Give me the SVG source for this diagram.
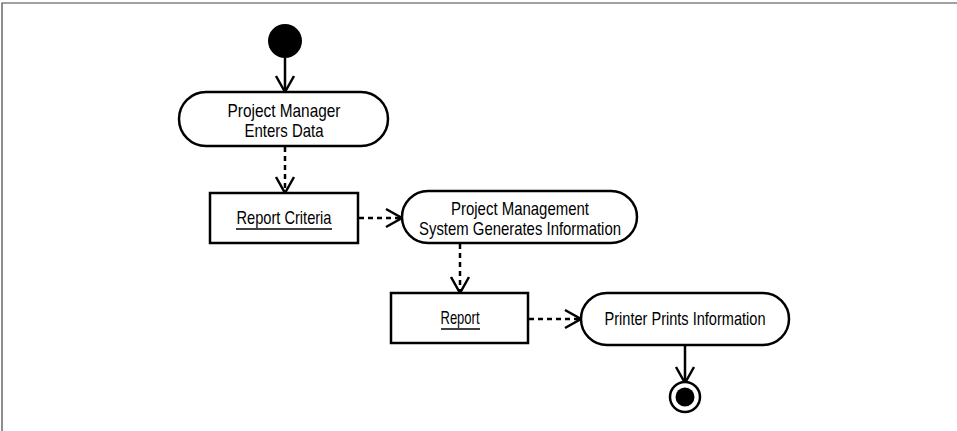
<svg xmlns="http://www.w3.org/2000/svg" width="957" height="431" viewBox="0 0 957 431">
  <defs>
    <marker id="open" markerUnits="userSpaceOnUse" markerWidth="26" markerHeight="26" viewBox="-20 -13 26 26" refX="0" refY="0" orient="auto">
      <path d="M-16,-9 L0,0 L-16,9" fill="none" stroke="#000" stroke-width="2.5"/>
    </marker>
  </defs>
  <style>
    .shape { fill: #fff; stroke: #000; stroke-width: 2.5; }
    .lbl { font-family: "Liberation Sans", Arial, sans-serif; font-size: 18.5px; fill: #000; text-anchor: middle; }
    .solid { fill: none; stroke: #000; stroke-width: 2.5; marker-end: url(#open); }
    .dash { fill: none; stroke: #000; stroke-width: 2.5; stroke-dasharray: 5 4; marker-end: url(#open); }
    .ul { stroke: #000; stroke-width: 1.6; }
  </style>
  <rect width="957" height="431" fill="#fff"/>
  <path d="M2,431 V3 H957" fill="none" stroke="#444" stroke-width="1.2"/>

  <g id="connectors">
    <line class="solid" x1="285" y1="58" x2="285" y2="92"/>
    <line class="dash" x1="285" y1="147" x2="285" y2="193"/>
    <line class="dash" x1="359" y1="218" x2="402" y2="218"/>
    <line class="dash" x1="460" y1="244" x2="460" y2="293"/>
    <line class="dash" x1="529" y1="319" x2="581" y2="319"/>
    <line class="solid" x1="685" y1="346" x2="685" y2="383"/>
  </g>

  <g id="start">
    <circle cx="285" cy="41" r="17" fill="#000"/>
  </g>

  <g id="enters-data">
    <rect class="shape" x="179" y="92" width="209" height="54" rx="27" ry="27"/>
    <text class="lbl" x="284" y="117" textLength="113" lengthAdjust="spacingAndGlyphs">Project Manager</text>
    <text class="lbl" x="284" y="137" textLength="79" lengthAdjust="spacingAndGlyphs">Enters Data</text>
  </g>

  <g id="report-criteria">
    <rect class="shape" x="210" y="193" width="148" height="50"/>
    <text class="lbl" x="284" y="224" textLength="95" lengthAdjust="spacingAndGlyphs">Report Criteria</text>
    <line class="ul" x1="236" y1="229" x2="332" y2="229"/>
  </g>

  <g id="generates-information">
    <rect class="shape" x="402" y="191" width="235" height="52" rx="26" ry="26"/>
    <text class="lbl" x="520" y="215" textLength="138" lengthAdjust="spacingAndGlyphs">Project Management</text>
    <text class="lbl" x="520" y="235" textLength="202" lengthAdjust="spacingAndGlyphs">System Generates Information</text>
  </g>

  <g id="report">
    <rect class="shape" x="391" y="293" width="137" height="50"/>
    <text class="lbl" x="460" y="324" textLength="39" lengthAdjust="spacingAndGlyphs">Report</text>
    <line class="ul" x1="441" y1="329" x2="480" y2="329"/>
  </g>

  <g id="prints-information">
    <rect class="shape" x="581" y="293" width="208" height="52" rx="26" ry="26"/>
    <text class="lbl" x="685" y="325" textLength="161" lengthAdjust="spacingAndGlyphs">Printer Prints Information</text>
  </g>

  <g id="end">
    <circle cx="685" cy="397" r="15" fill="#fff" stroke="#000" stroke-width="2.5"/>
    <circle cx="685" cy="397" r="9.5" fill="#000"/>
  </g>
</svg>
